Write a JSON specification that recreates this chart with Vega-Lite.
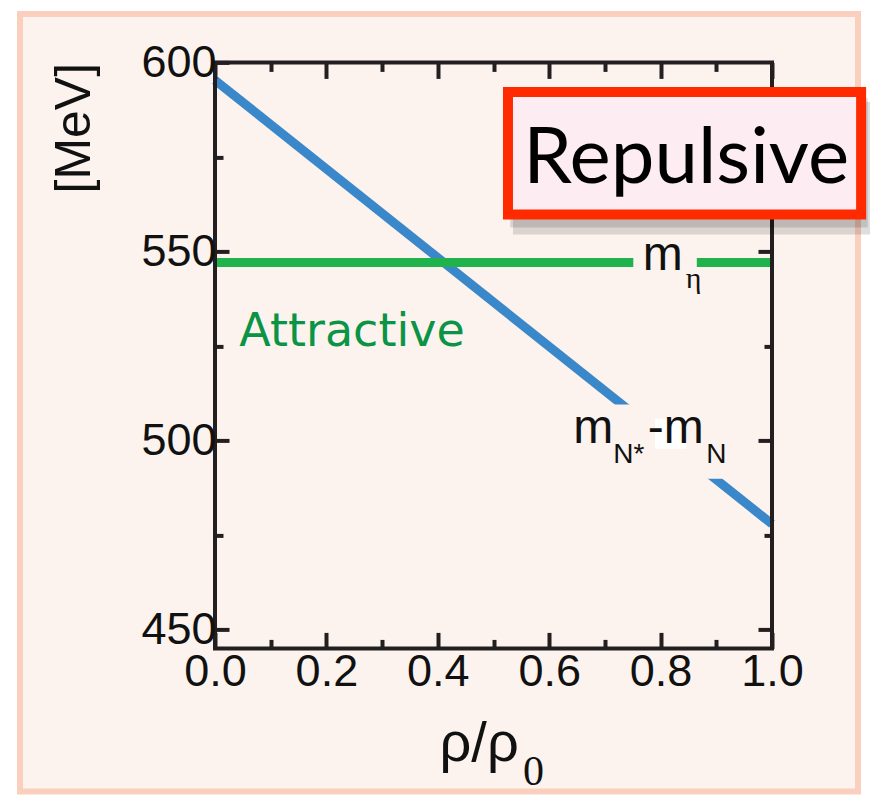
{
  "$schema": "https://vega.github.io/schema/vega-lite/v6.json",
  "width": 557,
  "height": 586,
  "autosize": "none",
  "padding": {"left": 215, "top": 62.4, "right": 98, "bottom": 147.6},
  "background": "white",
  "config": {"view": {"stroke": null}},
  "resolve": {"axis": {"x": "independent", "y": "independent"}},
  "layer": [
    {
      "data": {"values": [{"x1": -0.3501, "x2": 1.1544, "y1": 612.83, "y2": 407.15}]},
      "mark": {"type": "rect", "fill": "#fcf3ee", "stroke": "#fbcfbe", "strokeWidth": 6},
      "encoding": {
        "x": {"field": "x1", "type": "quantitative", "scale": {"domain": [0, 1], "nice": false, "zero": false},
          "axis": {"orient": "bottom", "values": [0, 0.1, 0.2, 0.3, 0.4, 0.5, 0.6, 0.7, 0.8, 0.9, 1],
            "labelExpr": "round(datum.value*10)%2==0 ? format(datum.value,'.1f') : ''",
            "tickSize": {"condition": {"test": "round(datum.value*10)%2==1", "value": -9}, "value": -16},
            "tickWidth": 4, "tickColor": "#231f20", "domain": false, "grid": false,
            "labelFont": "Liberation Sans", "labelFontSize": 45, "labelColor": "#111111", "labelPadding": 17,
            "labelOverlap": false, "labelFlush": false, "labelBound": false, "zindex": 1,
            "title": "ρ/ρ", "titleFont": "Liberation Sans", "titleFontSize": 56, "titleFontWeight": "normal",
            "titleColor": "#111111", "titleAlign": "left", "titleBaseline": "alphabetic", "titleX": 224, "titleY": 112}},
        "x2": {"field": "x2"},
        "y": {"field": "y1", "type": "quantitative", "scale": {"domain": [445, 600], "nice": false, "zero": false},
          "axis": {"orient": "left", "values": [450, 475, 500, 525, 550, 575, 600],
            "labelExpr": "datum.value%50==0 ? datum.value : ''",
            "tickSize": {"condition": {"test": "datum.value%50!=0", "value": -8}, "value": -14},
            "tickWidth": 4, "tickColor": "#231f20", "domain": false, "grid": false,
            "labelFont": "Liberation Sans", "labelFontSize": 45, "labelColor": "#111111", "labelPadding": 13,
            "labelOverlap": false, "labelFlush": false, "labelBound": false, "zindex": 1,
            "title": "[MeV]", "titleFont": "Liberation Sans", "titleFontSize": 50, "titleFontWeight": "normal",
            "titleColor": "#111111", "titleAngle": -90, "titleAlign": "right", "titleBaseline": "middle", "titleX": -141, "titleY": 0}},
        "y2": {"field": "y2"}
      }
    },
    {
      "data": {"values": [
        {"series": "mN*-mN", "x": 0, "y": 595.3},
        {"series": "mN*-mN", "x": 1, "y": 477.9},
        {"series": "meta", "x": 0, "y": 547.1},
        {"series": "meta", "x": 1, "y": 547.1}
      ]},
      "mark": {"type": "line", "strokeWidth": 9, "strokeCap": "butt"},
      "encoding": {
        "x": {"field": "x", "type": "quantitative", "scale": {"domain": [0, 1], "nice": false, "zero": false},
          "axis": {"orient": "top", "values": [0, 0.1, 0.2, 0.3, 0.4, 0.5, 0.6, 0.7, 0.8, 0.9, 1], "labels": false,
            "tickSize": {"condition": {"test": "round(datum.value*10)%2==1", "value": -9}, "value": -16},
            "tickWidth": 4, "tickColor": "#231f20", "domain": false, "grid": false, "title": null, "zindex": 1}},
        "y": {"field": "y", "type": "quantitative", "scale": {"domain": [445, 600], "nice": false, "zero": false},
          "axis": {"orient": "right", "values": [450, 475, 500, 525, 550], "labels": false,
            "tickSize": {"condition": {"test": "datum.value%50!=0", "value": -8}, "value": -14},
            "tickWidth": 4, "tickColor": "#231f20", "domain": false, "grid": false, "title": null, "zindex": 1}},
        "color": {"field": "series", "type": "nominal", "scale": {"domain": ["mN*-mN", "meta"], "range": ["#3a87c9", "#20b24b"]}, "legend": null}
      }
    },
    {
      "data": {"values": [
        {"x1": 0.70, "x2": 0.93, "y1": 509.5, "y2": 489.9},
        {"x1": 0.751, "x2": 0.865, "y1": 545.4, "y2": 548.8}
      ]},
      "mark": {"type": "rect", "fill": "#fcf3ee"},
      "encoding": {
        "x": {"field": "x1", "type": "quantitative", "scale": {"domain": [0, 1], "nice": false, "zero": false}, "axis": null},
        "x2": {"field": "x2"},
        "y": {"field": "y1", "type": "quantitative", "scale": {"domain": [445, 600], "nice": false, "zero": false}, "axis": null},
        "y2": {"field": "y2"}
      }
    },
    {
      "data": {"values": [{"x1": 0.790, "x2": 0.846, "y1": 505.75, "y2": 497.8}]},
      "mark": {"type": "rect", "fill": "#ffffff"},
      "encoding": {
        "x": {"field": "x1", "type": "quantitative", "scale": {"domain": [0, 1], "nice": false, "zero": false}, "axis": null},
        "x2": {"field": "x2"},
        "y": {"field": "y1", "type": "quantitative", "scale": {"domain": [445, 600], "nice": false, "zero": false}, "axis": null},
        "y2": {"field": "y2"}
      }
    },
    {
      "data": {"values": [{"x1": 0, "x2": 1, "y1": 445, "y2": 600}]},
      "mark": {"type": "rect", "fill": null, "stroke": "#231f20", "strokeWidth": 4},
      "encoding": {
        "x": {"field": "x1", "type": "quantitative", "scale": {"domain": [0, 1], "nice": false, "zero": false}, "axis": null},
        "x2": {"field": "x2"},
        "y": {"field": "y1", "type": "quantitative", "scale": {"domain": [445, 600], "nice": false, "zero": false}, "axis": null},
        "y2": {"field": "y2"}
      }
    },
    {
      "data": {"values": [
        {"x": 0.768, "y": 545.0, "t": "m"},
        {"x": 0.643, "y": 499.2, "t": "m"},
        {"x": 0.777, "y": 499.2, "t": "-m"}
      ]},
      "mark": {"type": "text", "font": "Liberation Sans", "fontSize": 48, "align": "left", "baseline": "alphabetic", "color": "#111111"},
      "encoding": {
        "x": {"field": "x", "type": "quantitative", "scale": {"domain": [0, 1], "nice": false, "zero": false}, "axis": null},
        "y": {"field": "y", "type": "quantitative", "scale": {"domain": [445, 600], "nice": false, "zero": false}, "axis": null},
        "text": {"field": "t"}
      }
    },
    {
      "data": {"values": [
        {"x": 0.715, "y": 494.1, "t": "N*"},
        {"x": 0.882, "y": 494.1, "t": "N"}
      ]},
      "mark": {"type": "text", "font": "Liberation Sans", "fontSize": 28, "align": "left", "baseline": "alphabetic", "color": "#111111"},
      "encoding": {
        "x": {"field": "x", "type": "quantitative", "scale": {"domain": [0, 1], "nice": false, "zero": false}, "axis": null},
        "y": {"field": "y", "type": "quantitative", "scale": {"domain": [445, 600], "nice": false, "zero": false}, "axis": null},
        "text": {"field": "t"}
      }
    },
    {
      "data": {"values": [{"x": 0.845, "y": 540.4, "t": "η"}]},
      "mark": {"type": "text", "font": "Liberation Serif", "fontSize": 30, "align": "left", "baseline": "alphabetic", "color": "#111111"},
      "encoding": {
        "x": {"field": "x", "type": "quantitative", "scale": {"domain": [0, 1], "nice": false, "zero": false}, "axis": null},
        "y": {"field": "y", "type": "quantitative", "scale": {"domain": [445, 600], "nice": false, "zero": false}, "axis": null},
        "text": {"field": "t"}
      }
    },
    {
      "data": {"values": [{"x": 0.0436, "y": 525.1, "t": "Attractive"}]},
      "mark": {"type": "text", "font": "DejaVu Sans", "fontSize": 46, "align": "left", "baseline": "alphabetic", "color": "#0b9446"},
      "encoding": {
        "x": {"field": "x", "type": "quantitative", "scale": {"domain": [0, 1], "nice": false, "zero": false}, "axis": null},
        "y": {"field": "y", "type": "quantitative", "scale": {"domain": [445, 600], "nice": false, "zero": false}, "axis": null},
        "text": {"field": "t"}
      }
    },
    {
      "data": {"values": [{"x": 0.553, "y": 408.8, "t": "0"}]},
      "mark": {"type": "text", "font": "Liberation Serif", "fontSize": 42, "align": "left", "baseline": "alphabetic", "color": "#111111"},
      "encoding": {
        "x": {"field": "x", "type": "quantitative", "scale": {"domain": [0, 1], "nice": false, "zero": false}, "axis": null},
        "y": {"field": "y", "type": "quantitative", "scale": {"domain": [445, 600], "nice": false, "zero": false}, "axis": null},
        "text": {"field": "t"}
      }
    },
    {
      "data": {"values": [
        {"x1": 0.530, "x2": 1.172, "y1": 590.5, "y2": 556.3},
        {"x1": 0.535, "x2": 1.180, "y1": 589.5, "y2": 554.5}
      ]},
      "mark": {"type": "rect", "fill": "#000000", "opacity": 0.13},
      "encoding": {
        "x": {"field": "x1", "type": "quantitative", "scale": {"domain": [0, 1], "nice": false, "zero": false}, "axis": null},
        "x2": {"field": "x2"},
        "y": {"field": "y1", "type": "quantitative", "scale": {"domain": [445, 600], "nice": false, "zero": false}, "axis": null},
        "y2": {"field": "y2"}
      }
    },
    {
      "data": {"values": [{"x1": 0.526, "x2": 1.160, "y1": 592.15, "y2": 559.8}]},
      "mark": {"type": "rect", "fill": "#fdedf3", "stroke": "#ff2a00", "strokeWidth": 10},
      "encoding": {
        "x": {"field": "x1", "type": "quantitative", "scale": {"domain": [0, 1], "nice": false, "zero": false}, "axis": null},
        "x2": {"field": "x2"},
        "y": {"field": "y1", "type": "quantitative", "scale": {"domain": [445, 600], "nice": false, "zero": false}, "axis": null},
        "y2": {"field": "y2"}
      }
    },
    {
      "data": {"values": [{"x": 0.846, "y": 568.0, "t": "Repulsive"}]},
      "mark": {"type": "text", "font": "Lato", "fontSize": 78, "align": "center", "baseline": "alphabetic", "color": "#000000"},
      "encoding": {
        "x": {"field": "x", "type": "quantitative", "scale": {"domain": [0, 1], "nice": false, "zero": false}, "axis": null},
        "y": {"field": "y", "type": "quantitative", "scale": {"domain": [445, 600], "nice": false, "zero": false}, "axis": null},
        "text": {"field": "t"}
      }
    }
  ]
}
